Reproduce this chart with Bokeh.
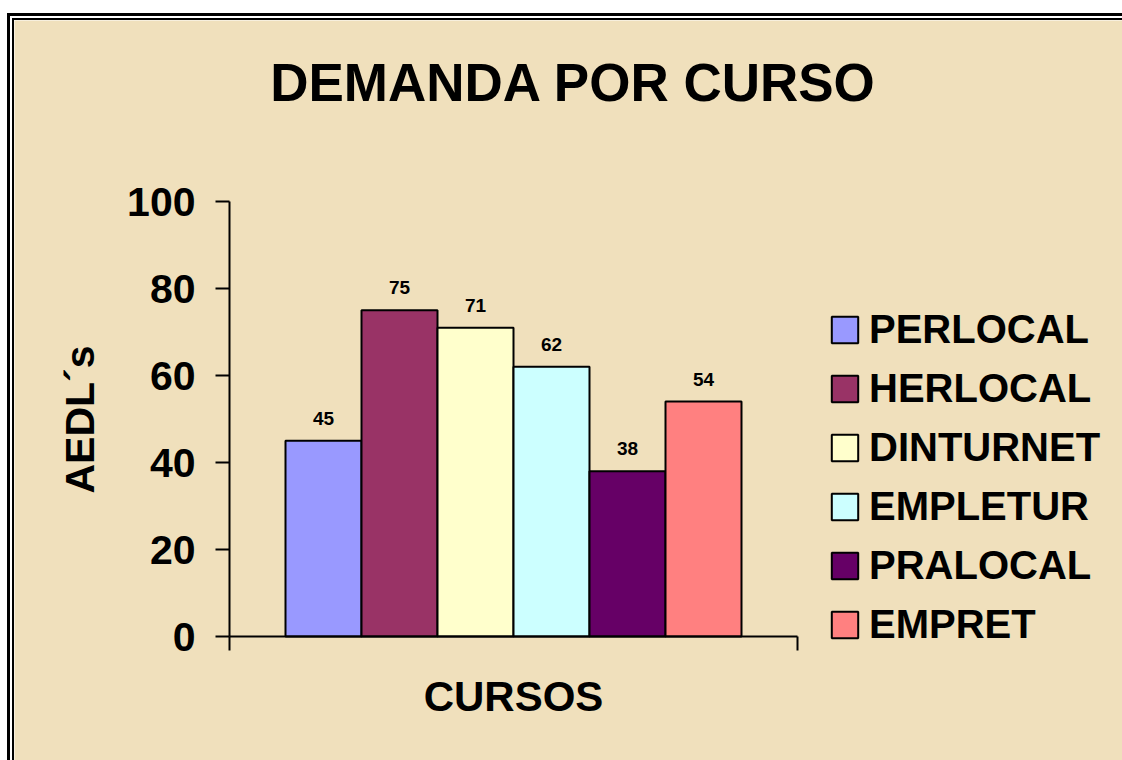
import math
from bokeh.plotting import figure
from bokeh.models import (ColumnDataSource, LabelSet, Label, Legend, LegendItem,
                          Range1d, FixedTicker)
from bokeh.core.properties import value
from bokeh.embed import file_html
from bokeh.resources import INLINE

# ---- data ----
cursos = ["PERLOCAL", "HERLOCAL", "DINTURNET", "EMPLETUR", "PRALOCAL", "EMPRET"]
aedls = [45, 75, 71, 62, 38, 54]
colores = ["#9999FF", "#993366", "#FFFFCC", "#CCFFFF", "#660066", "#FF8080"]
y_ticks = [0, 20, 40, 60, 80, 100]
y_max = 100
titulo = "DEMANDA POR CURSO"
eje_x = "CURSOS"
eje_y = "AEDL´s"

FONT = "Liberation Sans"
BG = "#F0E0BC"

pos = list(range(1, len(cursos) + 1))
src = ColumnDataSource(dict(x=pos, y=aedls, color=colores, curso=cursos,
                            txt=[str(v) for v in aedls]))

# layout geometry (pixels)
W, H = 1108, 740
AX_LEFT = 215        # canvas x of the y axis
AX_BOTTOM = 124      # distance of the x axis from the canvas bottom
BAR_PX = 76          # one category width
GAP_PX = 56          # empty space at each end of the x axis
AXIS_H_PX = 435      # height of the 0..100 axis

gap = GAP_PX / BAR_PX
x0, x1 = 0.5 - gap, len(cursos) + 0.5 + gap
x_start = x0 - AX_LEFT / BAR_PX
x_end = x_start + W / BAR_PX
ppu = AXIS_H_PX / y_max
y_start = -AX_BOTTOM / ppu
y_end = y_start + H / ppu

p = figure(width=W, height=H, output_backend="svg", toolbar_location=None,
           x_range=Range1d(x_start, x_end), y_range=Range1d(y_start, y_end),
           min_border_left=0, min_border_right=0,
           min_border_top=0, min_border_bottom=0)
p.styles = {"position": "relative", "left": "14px", "top": "20px",
            "box-shadow": "0 0 0 2px black, 0 0 0 4px white, 0 0 0 7px black"}
p.title.visible = False

p.background_fill_color = BG
p.border_fill_color = BG
p.outline_line_color = None
p.grid.visible = False

r = p.vbar(x="x", top="y", width=1.0, bottom=0, source=src,
           fill_color="color", line_color="black", line_width=2)

# y axis
ya = p.yaxis[0]
ya.fixed_location = x0
ya.bounds = (0, y_max)
ya.ticker = FixedTicker(ticks=y_ticks)
ya.minor_tick_line_color = None
ya.major_tick_in = 0
ya.major_tick_out = 14
ya.major_tick_line_width = 2
ya.axis_line_width = 2
ya.major_label_standoff = 20
ya.major_label_text_font = FONT
ya.major_label_text_font_style = "bold"
ya.major_label_text_font_size = "41px"
ya.major_label_text_color = "black"

# x axis (only the two end ticks, no tick labels)
xa = p.xaxis[0]
xa.fixed_location = 0
xa.bounds = (x0, x1)
xa.ticker = FixedTicker(ticks=[x0, x1])
xa.major_label_overrides = {x0: "", x1: ""}
xa.minor_tick_line_color = None
xa.major_tick_in = 0
xa.major_tick_out = 14
xa.major_tick_line_width = 2
xa.axis_line_width = 2
xa.major_label_standoff = 0

# axis titles
p.add_layout(Label(x=AX_LEFT + 284, y=64, x_units="screen", y_units="screen",
                   text=eje_x, text_align="center", text_baseline="alphabetic",
                   text_font=FONT, text_font_style="bold",
                   text_font_size="42px", text_color="black"))
p.add_layout(Label(x=65, y=AX_BOTTOM + 217, x_units="screen", y_units="screen",
                   text=eje_y, angle=math.pi / 2,
                   text_align="center", text_baseline="alphabetic",
                   text_font=FONT, text_font_style="bold",
                   text_font_size="41px", text_color="black"))

# value labels
labels = LabelSet(x="x", y="y", text="txt", source=src, y_offset=16,
                  text_align="center", text_baseline="alphabetic",
                  text_font=value(FONT), text_font_style="bold",
                  text_font_size="19px", text_color="black")
p.add_layout(labels)

# title
p.add_layout(Label(x=559, y=678, x_units="screen", y_units="screen", text=titulo,
                   text_align="center", text_baseline="alphabetic",
                   text_font=FONT, text_font_style="bold",
                   text_font_size="53px", text_color="black"))

# legend
items = [LegendItem(label=c, renderers=[r], index=i) for i, c in enumerate(cursos)]
leg = Legend(items=items, location=(814, 113), padding=0, margin=0,
             spacing=14, glyph_width=33, glyph_height=33, label_standoff=8,
             background_fill_alpha=0, border_line_color=None,
             label_text_font=FONT, label_text_font_style="bold",
             label_text_font_size="40px", label_text_color="black")
p.add_layout(leg)

open("out.html", "w").write(file_html(p, INLINE))
